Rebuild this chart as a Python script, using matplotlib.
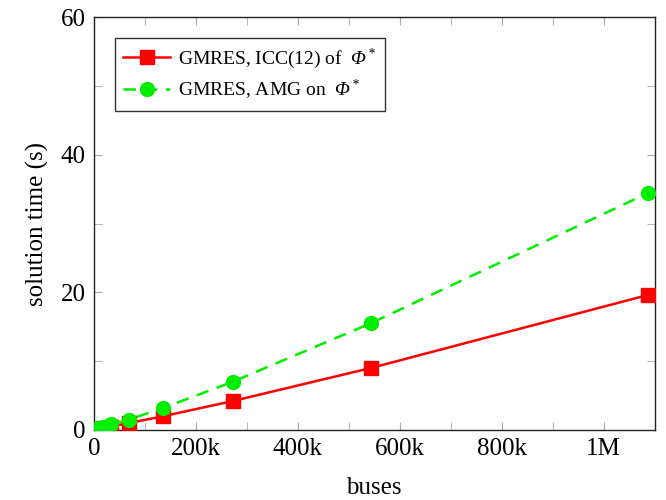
import matplotlib
matplotlib.use("Agg")
import matplotlib.pyplot as plt
from matplotlib.ticker import FuncFormatter, MultipleLocator

plt.rcParams['font.family'] = ['Liberation Serif', 'DejaVu Serif']
# mathtext sets capital greek upright, so point its roman face at the italic font
plt.rcParams['mathtext.fontset'] = 'custom'
plt.rcParams['mathtext.rm'] = 'Liberation Serif:italic'
plt.rcParams['mathtext.it'] = 'Liberation Serif:italic'

# data
buses = [4200, 8500, 17000, 34000, 68000, 136000, 272000, 543000, 1086000]
icc_time = [0.1, 0.15, 0.25, 0.5, 1.0, 2.0, 4.2, 9.0, 19.6]
amg_time = [0.15, 0.25, 0.4, 0.8, 1.5, 3.2, 7.0, 15.5, 34.4]

labels = ['GMRES, ICC(12) of  $\\Phi^*$',
          'GMRES, AMG on  $\\Phi^*$']


def kfmt(v, pos):
    if v == 0:
        return '0'
    if v >= 1e6:
        return '%gM' % (v / 1e6)
    return '%gk' % (v / 1e3)


fig = plt.figure(figsize=(6.66, 5.0), dpi=100)
ax = fig.add_axes([0.141, 0.14, 0.842, 0.826])

ax.plot(buses, icc_time, '-', color='#ff0000', lw=1.8, marker='s', ms=10,
        label=labels[0], zorder=3)
ax.plot(buses, amg_time, '--', color='#00ee00', lw=1.8, marker='o', ms=10,
        dashes=(5, 3.5), label=labels[1], zorder=3)

ax.set_xlim(0, 1.1e6)
ax.set_ylim(0, 60)
ax.xaxis.set_major_locator(MultipleLocator(200000))
ax.xaxis.set_minor_locator(MultipleLocator(100000))
ax.yaxis.set_major_locator(MultipleLocator(20))
ax.yaxis.set_minor_locator(MultipleLocator(10))
ax.xaxis.set_major_formatter(FuncFormatter(kfmt))

ax.tick_params(which='both', direction='in', top=True, right=True,
               color='#aaaaaa', labelsize=18, pad=6)
ax.tick_params(which='major', length=6)
ax.tick_params(which='minor', length=6)
for s in ax.spines.values():
    s.set_color('#222222')
    s.set_linewidth(1.0)

ax.set_xlabel('buses', fontsize=18, labelpad=12)
ax.set_ylabel('solution time (s)', fontsize=18, labelpad=8)

leg = ax.legend(loc='upper left', bbox_to_anchor=(0.037, 0.949), fontsize=14,
                frameon=True, fancybox=False, edgecolor='black',
                borderaxespad=0, handlelength=2.4, handletextpad=0.4,
                borderpad=0.45, labelspacing=0.35)
leg.get_frame().set_linewidth(1.0)

fig.savefig('out.png', dpi=100)
